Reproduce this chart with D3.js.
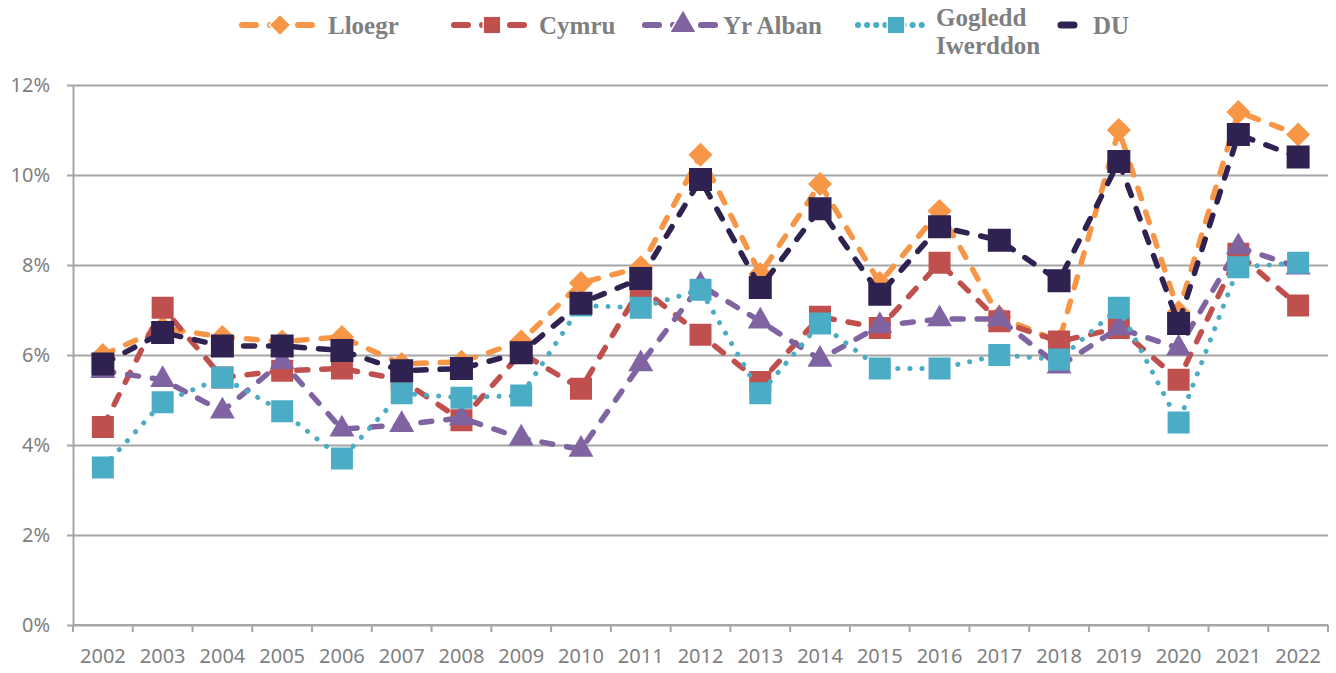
<!DOCTYPE html>
<html>
<head>
<meta charset="utf-8">
<script src="https://cdn.jsdelivr.net/npm/d3@7"></script>
<style>
  body { margin: 0; background: #fff; }
  svg { display: block; }
  .tick text { fill: #7f7f7f; font-family: "Noto Sans", sans-serif; font-size: 20px; }
  .legend text { fill: #7f7f7f; font-family: "Liberation Serif", serif; font-weight: bold; font-size: 25px; }
</style>
</head>
<body>
<div id="chart"></div>
<script>
// Blynyddoedd a chyfresi
const years = ["2002","2003","2004","2005","2006","2007","2008","2009","2010","2011","2012",
               "2013","2014","2015","2016","2017","2018","2019","2020","2021","2022"];
const seriesNames = ["Lloegr", "Cymru", "Yr Alban", "Gogledd Iwerddon", "DU"];
const colours = ["#f79646", "#c0504d", "#8064a2", "#4bacc6", "#2f2150"];

const lloegr  = [6.0, 6.6, 6.4, 6.3, 6.4, 5.8, 5.85, 6.3, 7.6, 7.95, 10.45, 7.8, 9.8, 7.6, 9.2, 6.85, 6.3, 11.0, 6.95, 11.4, 10.9];
const cymru   = [4.4, 7.05, 5.5, 5.65, 5.7, 5.45, 4.55, 6.05, 5.25, 7.5, 6.45, 5.4, 6.85, 6.6, 8.05, 6.75, 6.3, 6.6, 5.45, 8.25, 7.1];
const yrAlban = [5.65, 5.45, 4.75, 5.85, 4.35, 4.45, 4.6, 4.15, 3.9, 5.8, 7.55, 6.75, 5.9, 6.65, 6.8, 6.8, 5.75, 6.6, 6.15, 8.4, 7.95];
const gogledd = [3.5, 4.95, 5.5, 4.75, 3.7, 5.15, 5.05, 5.1, 7.1, 7.05, 7.45, 5.15, 6.7, 5.7, 5.7, 6.0, 5.9, 7.05, 4.5, 7.95, 8.05];
const du      = [5.8, 6.5, 6.2, 6.2, 6.1, 5.65, 5.7, 6.05, 7.15, 7.7, 9.9, 7.5, 9.25, 7.35, 8.85, 8.55, 7.65, 10.3, 6.7, 10.9, 10.4];

const yTicks = [0, 2, 4, 6, 8, 10, 12];

const width = 1336, height = 673;
const margin = { top: 85, right: 8, bottom: 48, left: 73 };

const svg = d3.select("#chart").append("svg")
    .attr("width", width)
    .attr("height", height);

const x = d3.scaleBand()
    .domain(years)
    .range([margin.left, width - margin.right]);

const y = d3.scaleLinear()
    .domain([0, 12])
    .range([height - margin.bottom, margin.top]);

// Llinellau grid
svg.append("g")
    .attr("class", "grid")
    .attr("transform", `translate(${margin.left},0)`)
    .call(d3.axisLeft(y).tickValues(yTicks).tickSize(-(width - margin.right - margin.left)).tickFormat(""))
    .call(g => g.select(".domain").remove())
    .call(g => g.selectAll("line").attr("stroke", "#a6a6a6").attr("stroke-width", 2));

// Echel y
svg.append("g")
    .attr("class", "y-axis")
    .attr("transform", `translate(${margin.left},0)`)
    .call(d3.axisLeft(y).tickValues(yTicks).tickSize(6).tickSizeOuter(0).tickPadding(17).tickFormat(d => d + "%"))
    .call(g => g.select(".domain").attr("stroke", "#a6a6a6").attr("stroke-width", 2))
    .call(g => g.selectAll("line").attr("stroke", "#a6a6a6").attr("stroke-width", 2));

// Echel x
const xAxis = svg.append("g")
    .attr("class", "x-axis")
    .attr("transform", `translate(0,${y(0)})`)
    .call(d3.axisBottom(x).tickSize(0).tickPadding(24))
    .call(g => g.select(".domain").remove());

const bounds = years.map(d => x(d)).concat([x(years[years.length - 1]) + x.bandwidth()]);
xAxis.selectAll(".bound")
    .data(bounds)
    .enter().append("line")
    .attr("x1", d => d).attr("x2", d => d)
    .attr("y1", 0).attr("y2", 7)
    .attr("stroke", "#a6a6a6").attr("stroke-width", 2);

svg.append("line")
    .attr("x1", margin.left).attr("x2", width - margin.right)
    .attr("y1", y(0)).attr("y2", y(0))
    .attr("stroke", "#a6a6a6").attr("stroke-width", 2);

// Cyfresi
const allSeries = [lloegr, cymru, yrAlban, gogledd, du];
const dashes = ["11,14", "11,14", "11,14", "0.1,12", "11,14"];
const symbols = [
    d3.symbol().type(d3.symbolSquare).size(290),
    d3.symbol().type(d3.symbolSquare).size(484),
    d3.symbol().type(d3.symbolTriangle).size(270),
    d3.symbol().type(d3.symbolSquare).size(484),
    d3.symbol().type(d3.symbolSquare).size(529)
];
const rotations = [45, 0, 0, 0, 0];

const line = d3.line()
    .x((d, i) => x(years[i]) + x.bandwidth() / 2)
    .y(d => y(d));

allSeries.forEach((vals, s) => {
    const g = svg.append("g").attr("class", "series");
    g.append("path")
        .datum(vals)
        .attr("d", line)
        .attr("fill", "none")
        .attr("stroke", colours[s])
        .attr("stroke-width", s === 3 ? 5 : 5.5)
        .attr("stroke-linecap", "round")
        .attr("stroke-dasharray", dashes[s]);
    g.selectAll(".mark")
        .data(vals)
        .enter().append("path")
        .attr("class", "mark")
        .attr("d", symbols[s])
        .attr("fill", colours[s])
        .attr("transform", (d, i) => `translate(${x(years[i]) + x.bandwidth() / 2},${y(d)}) rotate(${rotations[s]})`);
});

// Allwedd
const legendItems = [
    { x: 240, tx: 328 },
    { x: 452, tx: 539 },
    { x: 643, tx: 723 },
    { x: 856, tx: 936 },
    { x: 1058, tx: 1093 }
];
const legend = svg.append("g").attr("class", "legend");
legendItems.forEach((it, s) => {
    const ly = 25;
    const g = legend.append("g");
    if (s < 4) {
        g.append("line")
            .attr("x1", it.x + 2).attr("x2", it.x + 74)
            .attr("y1", ly).attr("y2", ly)
            .attr("stroke", colours[s]).attr("stroke-width", 6)
            .attr("stroke-linecap", "round")
            .attr("stroke-dasharray", s === 3 ? "0.1,9" : "14,14");
        g.append("path")
            .attr("d", d3.symbol().type(s === 2 ? d3.symbolTriangle : d3.symbolSquare).size(s === 0 ? 190 : 260)())
            .attr("fill", colours[s])
            .attr("stroke", "#fff").attr("stroke-width", 3).attr("paint-order", "stroke")
            .attr("transform", `translate(${it.x + 40},${ly}) rotate(${s === 0 ? 45 : 0})`);
    } else {
        g.append("line")
            .attr("x1", it.x + 3).attr("x2", it.x + 16)
            .attr("y1", ly).attr("y2", ly)
            .attr("stroke", colours[s]).attr("stroke-width", 7)
            .attr("stroke-linecap", "round");
    }
    const t = g.append("text").attr("x", it.tx);
    if (s === 3) {
        t.append("tspan").attr("x", it.tx).attr("y", 26).text("Gogledd");
        t.append("tspan").attr("x", it.tx).attr("y", 54).text("Iwerddon");
    } else {
        t.attr("y", 34).text(seriesNames[s]);
    }
});
</script>
</body>
</html>
